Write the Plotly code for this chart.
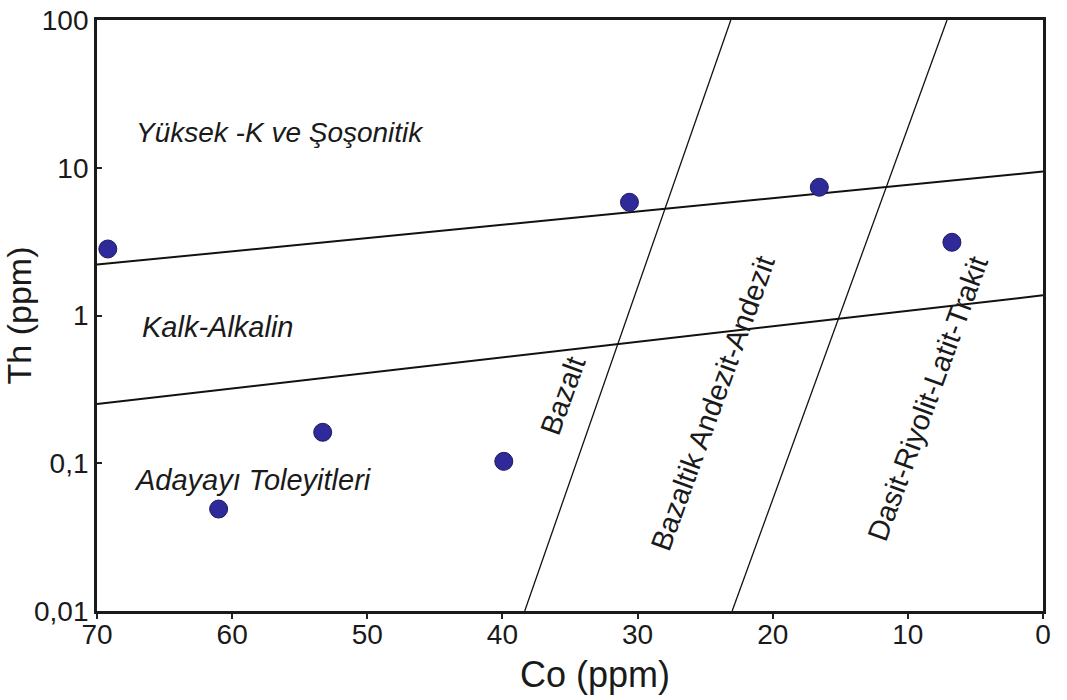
import plotly.graph_objects as go

# Sample data (Co vs Th, ppm)
co_ppm = [69.2, 61.0, 53.3, 39.9, 30.6, 16.55, 6.74]
th_ppm = [2.82, 0.049, 0.162, 0.103, 5.84, 7.38, 3.13]

# Discrimination boundaries (endpoints, data coordinates)
upper_co = [70, 0]
upper_th = [2.21, 9.42]
lower_co = [70, 0]
lower_th = [0.252, 1.37]
diag1_co = [38.35, 23.1]
diag1_th = [0.01, 100]
diag2_co = [23.0, 7.1]
diag2_th = [0.01, 100]

x_ticks = [70, 60, 50, 40, 30, 20, 10, 0]
y_ticks = [0.01, 0.1, 1, 10, 100]
y_ticktext = ["0,01", "0,1", "1", "10", "100"]

FONT = "Arial, Liberation Sans, sans-serif"

fig = go.Figure()
for xs, ys, w in [(upper_co, upper_th, 2.0), (lower_co, lower_th, 2.0),
                  (diag1_co, diag1_th, 1.3), (diag2_co, diag2_th, 1.3)]:
    fig.add_trace(go.Scatter(x=xs, y=ys, mode="lines",
                             line=dict(color="#111111", width=w),
                             showlegend=False, hoverinfo="skip"))

fig.add_trace(go.Scatter(x=co_ppm, y=th_ppm, mode="markers",
                         marker=dict(size=18, color="#2f2a9a",
                                     line=dict(color="#1c1a60", width=1)),
                         cliponaxis=False, showlegend=False))

labels = [
    dict(text="<i>Yüksek -K ve Şoşonitik</i>", x=0.039, y=0.810, xanchor="left", textangle=0, size=28),
    dict(text="<i>Kalk-Alkalin</i>", x=0.0455, y=0.4805, xanchor="left", textangle=0, size=29),
    dict(text="<i>Adayayı Toleyitleri</i>", x=0.037, y=0.2217, xanchor="left", textangle=0, size=29),
    dict(text="Bazalt", x=0.4926, y=0.3655, xanchor="center", textangle=-70, size=29),
    dict(text="Bazaltik Andezit-Andezit", x=0.651, y=0.352, xanchor="center", textangle=-70, size=29),
    dict(text="Dasit-Riyolit-Latit-Trakit", x=0.878, y=0.3587, xanchor="center", textangle=-70, size=29),
]
for a in labels:
    fig.add_annotation(text=a["text"], x=a["x"], y=a["y"], xref="paper", yref="paper",
                       xanchor=a["xanchor"], yanchor="middle", textangle=a["textangle"],
                       showarrow=False, font=dict(family=FONT, size=a["size"], color="#1a1a1a"))

# x-axis title (placed slightly right of centre as in the original)
fig.add_annotation(text="Co (ppm)", x=0.526, y=-0.108, xref="paper", yref="paper",
                   xanchor="center", yanchor="middle", showarrow=False,
                   font=dict(family=FONT, size=36, color="#1a1a1a"))

fig.update_layout(
    width=1067, height=700,
    margin=dict(l=97, r=24, t=20, b=89, autoexpand=False),
    paper_bgcolor="white", plot_bgcolor="white",
    font=dict(family=FONT, color="#1a1a1a"),
    showlegend=False,
)
fig.update_xaxes(range=[70, 0], tickvals=x_ticks, ticks="outside", ticklen=5, tickwidth=1.5,
                 tickcolor="#222", showline=True, linecolor="#1a1a1a", linewidth=2.8,
                 mirror=True, showgrid=False, zeroline=False, ticklabelstandoff=-9,
                 automargin=False,
                 tickfont=dict(size=28, family=FONT, color="#1a1a1a"))
fig.update_yaxes(type="log", range=[-2, 2], tickvals=y_ticks, ticktext=y_ticktext,
                 ticks="inside", ticklen=5, tickwidth=1.5, tickcolor="#222",
                 showline=True, linecolor="#1a1a1a", linewidth=2.8, mirror=True,
                 showgrid=False, zeroline=False, automargin=False,
                 tickfont=dict(size=28, family=FONT, color="#1a1a1a"),
                 title=dict(text="Th (ppm)", font=dict(size=34, family=FONT, color="#1a1a1a"),
                            standoff=4))

fig.write_html("out.html")
